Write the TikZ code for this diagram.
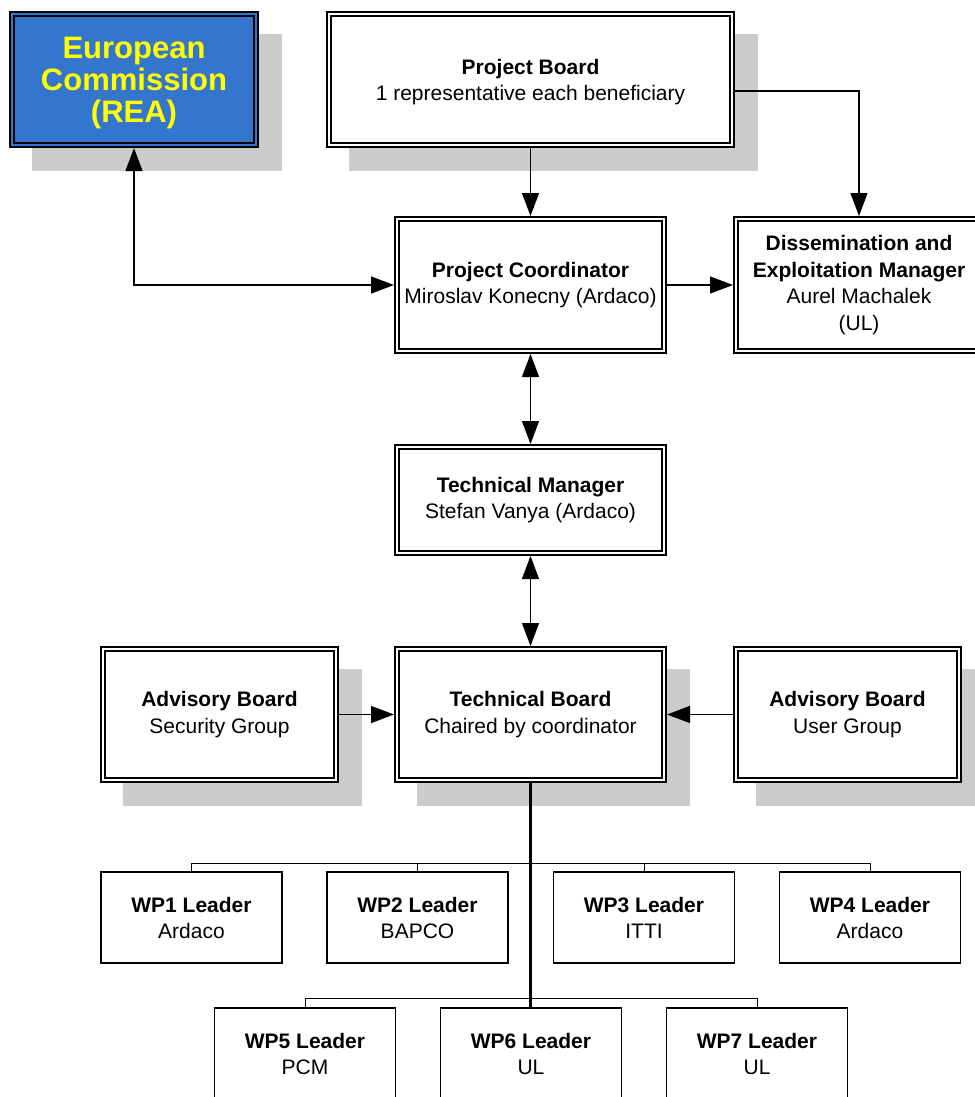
\documentclass[tikz,border=0pt]{standalone}
\usepackage{fontspec}
\setmainfont{Liberation Sans}
\usetikzlibrary{arrows.meta,backgrounds}
\definecolor{ecblue}{RGB}{52,118,206}
\definecolor{ecyellow}{RGB}{255,255,0}
\definecolor{shadowgray}{RGB}{204,204,204}
\tikzset{
  dbox/.style={draw=black, double=white, double distance=2.4pt, line width=1.6pt,
    fill=white, outer sep=2.8pt, inner sep=0pt, align=center,
    font=\fontsize{21}{26.5}\selectfont},
  wpbox/.style={draw=black, line width=1.3pt, fill=white, inner sep=0pt, align=center,
    minimum width=181pt, minimum height=91pt, font=\fontsize{21}{26}\selectfont},
  conn/.style={line width=1.3pt},
  tip/.style={-{Triangle[length=23pt,width=17pt]}},
  both/.style={{Triangle[length=23pt,width=17pt]}-{Triangle[length=23pt,width=17pt]}},
  tree/.style={line width=1pt},
  shade/.style={fill=shadowgray}
}
\newcommand{\shadowof}[1]{\fill[shade] ([shift={(23,23)}]#1.south west) rectangle ([shift={(23,23)}]#1.north east);}
\begin{document}
\begin{tikzpicture}[x=1pt,y=-1pt]
\useasboundingbox (0,0) rectangle (974,1097);

% double-bordered boxes
\node[dbox, fill=ecblue, double=ecblue, minimum width=244.4pt, minimum height=131.4pt] (ec) at (134,79.5) {};
\node[align=center, inner sep=0pt, font=\fontsize{31}{32}\selectfont\bfseries, text=ecyellow] (ectext) at (134,83.5)
  {European\\Commission\\(REA)};
\node[dbox, minimum width=403.4pt, minimum height=131.4pt] (pb) at (530.5,79.5) {};
\node[align=center, inner sep=0pt, font=\fontsize{21}{26.5}\selectfont] (pbtext) at (530.5,82)
  {\textbf{Project Board}\\1 representative each beneficiary};
\node[dbox, minimum width=267.4pt, minimum height=132.4pt] (pc) at (530.5,285)
  {\textbf{Project Coordinator}\\Miroslav Konecny (Ardaco)};
\node[dbox, minimum width=246.4pt, minimum height=132.4pt] (dm) at (859,285)
  {\textbf{Dissemination and}\\\textbf{Exploitation Manager}\\Aurel Machalek\\(UL)};
\node[dbox, minimum width=267.4pt, minimum height=106.4pt] (tm) at (530.5,500)
  {\textbf{Technical Manager}\\Stefan Vanya (Ardaco)};
\node[dbox, minimum width=233.4pt, minimum height=131.4pt] (as) at (219.5,714.5)
  {\textbf{Advisory Board}\\Security Group};
\node[dbox, minimum width=267.4pt, minimum height=131.4pt] (tb) at (530.5,714.5)
  {\textbf{Technical Board}\\Chaired by coordinator};
\node[dbox, minimum width=223.4pt, minimum height=131.4pt] (au) at (847.5,714.5)
  {\textbf{Advisory Board}\\User Group};

% work package boxes
\node[wpbox] (wp1) at (191.5,917.5) {\textbf{WP1 Leader}\\Ardaco};
\node[wpbox] (wp2) at (417.5,917.5) {\textbf{WP2 Leader}\\BAPCO};
\node[wpbox] (wp3) at (644,917.5) {\textbf{WP3 Leader}\\ITTI};
\node[wpbox] (wp4) at (870,917.5) {\textbf{WP4 Leader}\\Ardaco};
\node[wpbox, minimum height=92pt] (wp5) at (305,1054) {\textbf{WP5 Leader}\\PCM};
\node[wpbox, minimum height=92pt] (wp6) at (531,1054) {\textbf{WP6 Leader}\\UL};
\node[wpbox, minimum height=92pt] (wp7) at (757,1054) {\textbf{WP7 Leader}\\UL};

% shadows
\begin{scope}[on background layer]
  \shadowof{ec}
  \shadowof{pb}
  \shadowof{as}
  \shadowof{tb}
  \shadowof{au}
\end{scope}

% connectors
\draw[conn, tip] (pb.south) -- (pc.north);
\draw[conn, tip] ([yshift=-11.5pt]pb.east) -| (dm.north);
\draw[conn, both] (ec.south) |- (pc.west);
\draw[conn, tip] (pc.east) -- (dm.west);
\draw[conn, both] (pc.south) -- (tm.north);
\draw[conn, both] (tm.south) -- (tb.north);
\draw[conn, tip] (as.east) -- (tb.west);
\draw[conn, tip] (au.west) -- (tb.east);

% work package tree
\coordinate (bar1) at (530,863);
\coordinate (bar2) at (530,998);
\draw[line width=2.2pt] (tb.south) -- (tb.south |- wp6.north);
\draw[tree] (wp1.north) -- (wp1.north |- bar1) -- (wp4.north |- bar1) -- (wp4.north);
\draw[tree] (wp2.north) -- (wp2.north |- bar1);
\draw[tree] (wp3.north) -- (wp3.north |- bar1);
\draw[tree] (wp5.north) -- (wp5.north |- bar2) -- (wp7.north |- bar2) -- (wp7.north);
\end{tikzpicture}
\end{document}
